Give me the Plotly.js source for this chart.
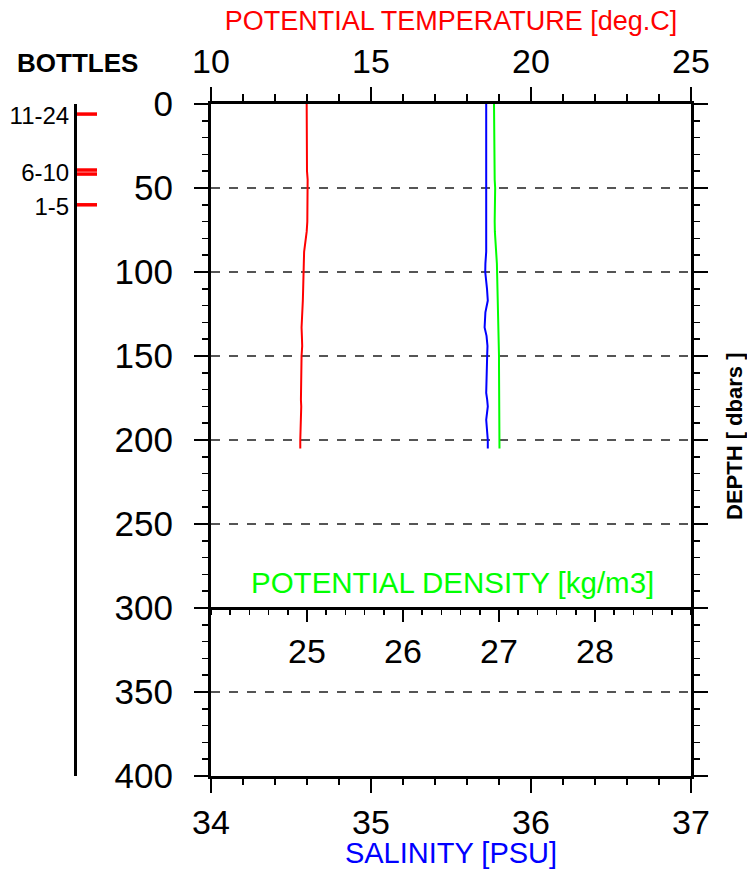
<!DOCTYPE html>
<html>
<head>
<meta charset="utf-8">
<script src="https://cdn.plot.ly/plotly-3.0.1.min.js"></script>
<style>html,body{margin:0;padding:0;background:#fff;}#chart{width:747px;height:869px;}</style>
</head>
<body>
<div id="chart"></div>
<script>
// ---- data ----
var depth = [0, 10, 20, 30, 40, 45, 50, 60, 70, 76, 82, 88, 95, 100, 110, 117, 124, 129, 133, 138, 144, 150, 156, 165, 172, 176, 180, 188, 194, 200, 205];
var potTemp = [12.99, 12.99, 12.99, 13.00, 13.00, 13.02, 13.02, 13.02, 13.01, 12.99, 12.95, 12.91, 12.90, 12.90, 12.88, 12.87, 12.85, 12.83, 12.83, 12.84, 12.85, 12.83, 12.82, 12.82, 12.81, 12.81, 12.82, 12.80, 12.80, 12.79, 12.79];
var salinity = [35.720, 35.720, 35.720, 35.720, 35.720, 35.720, 35.720, 35.720, 35.720, 35.720, 35.724, 35.720, 35.715, 35.714, 35.725, 35.730, 35.715, 35.710, 35.710, 35.722, 35.728, 35.726, 35.724, 35.720, 35.720, 35.726, 35.730, 35.720, 35.726, 35.730, 35.730];
var potDensity = [26.948, 26.948, 26.950, 26.952, 26.955, 26.955, 26.960, 26.955, 26.955, 26.957, 26.965, 26.972, 26.978, 26.980, 26.985, 26.990, 26.990, 26.992, 26.993, 26.995, 26.997, 27.000, 27.000, 27.002, 27.003, 27.004, 27.004, 27.005, 27.005, 27.005, 27.005];

var bottleMarkDepths = [6, 39.3, 41.7, 60];
var bottleLabelDepths = [7, 41, 61];
var bottleLabels = ['11-24', '6-10', '1-5'];

var depthTicks = [0, 50, 100, 150, 200, 250, 300, 350, 400];
var densityTicks = [25, 26, 27, 28];

// ---- build ----
var bx = [], by = [];
bottleMarkDepths.forEach(function (d) { bx.push(0, 1, null); by.push(d, d, null); });

var FONT = '"Liberation Sans", Arial, Helvetica, sans-serif';

var traces = [
  { x: salinity, y: depth, xaxis: 'x', yaxis: 'y', mode: 'lines', line: { color: '#0000ff', width: 2 }, name: 'Salinity', hoverinfo: 'skip' },
  { x: potTemp, y: depth, xaxis: 'x2', yaxis: 'y', mode: 'lines', line: { color: '#ff0000', width: 2 }, name: 'Potential temperature', hoverinfo: 'skip' },
  { x: potDensity, y: depth, xaxis: 'x3', yaxis: 'y', mode: 'lines', line: { color: '#00ff00', width: 2 }, name: 'Potential density', hoverinfo: 'skip' },
  { x: bx, y: by, xaxis: 'x4', yaxis: 'y4', mode: 'lines', line: { color: '#ff0000', width: 3.5 }, name: 'Bottles', hoverinfo: 'skip', cliponaxis: false }
];

var L = 60, R = 56, T = 104, B = 93, W = 747, H = 869;
var pw = W - L - R;
function px2fx(p) { return (p - L) / pw; }

var layout = {
  width: W, height: H,
  margin: { l: L, r: R, t: T, b: B, pad: 0 },
  paper_bgcolor: '#ffffff', plot_bgcolor: 'rgba(0,0,0,0)',
  showlegend: false,
  font: { family: FONT, color: '#000' },
  xaxis: {
    domain: [px2fx(211), 1], range: [34, 37], anchor: 'y', side: 'bottom',
    tickmode: 'linear', tick0: 34, dtick: 1,
    ticks: 'outside', ticklen: 14, tickwidth: 1.5, tickcolor: '#000',
    minor: { dtick: 0.2, ticks: 'outside', ticklen: 6, tickwidth: 1.5, tickcolor: '#000', showgrid: false },
    showline: true, linewidth: 3, linecolor: '#000', mirror: true,
    showgrid: false, zeroline: false,
    tickfont: { size: 34, family: FONT },
    ticklabelstandoff: 0,
    title: { text: 'SALINITY [PSU]', font: { size: 29, color: '#0000ff', family: FONT }, standoff: 6 }
  },
  xaxis2: {
    overlaying: 'x', range: [10, 25], anchor: 'y', side: 'top',
    tickmode: 'linear', tick0: 10, dtick: 5,
    ticks: 'outside', ticklen: 14, tickwidth: 1.5, tickcolor: '#000',
    minor: { dtick: 1, ticks: 'outside', ticklen: 7, tickwidth: 1.5, tickcolor: '#000', showgrid: false },
    showline: true, linewidth: 3, linecolor: '#000',
    showgrid: false, zeroline: false,
    tickfont: { size: 34, family: FONT },
    ticklabelstandoff: 0,
    title: { text: 'POTENTIAL TEMPERATURE [deg.C]', font: { size: 27, color: '#ff0000', family: FONT }, standoff: 4 }
  },
  xaxis3: {
    overlaying: 'x', range: [24, 29], anchor: 'free', position: 0.25, side: 'bottom',
    tickmode: 'array', tickvals: densityTicks,
    ticks: 'outside', ticklen: 12, tickwidth: 1.5, tickcolor: '#000',
    minor: { dtick: 0.2, tick0: 24, ticks: 'outside', ticklen: 5, tickwidth: 1.5, tickcolor: '#000', showgrid: false },
    showline: true, linewidth: 3, linecolor: '#000',
    showgrid: false, zeroline: false,
    tickfont: { size: 34, family: FONT },
    ticklabelstandoff: 0
  },
  yaxis: {
    domain: [0, 1], range: [400, 0], anchor: 'x',
    tickmode: 'array', tickvals: depthTicks,
    ticks: 'outside', ticklen: 14, tickwidth: 1.5, tickcolor: '#000',
    minor: { dtick: 10, ticks: 'outside', ticklen: 6, tickwidth: 1.5, tickcolor: '#000', showgrid: false },
    showline: true, linewidth: 3, linecolor: '#000', mirror: 'ticks',
    showgrid: true, gridcolor: '#555555', gridwidth: 1.2, griddash: 'dash',
    zeroline: false,
    tickfont: { size: 35, family: FONT },
    ticklabelstandoff: 14
  },
  xaxis4: {
    domain: [px2fx(77), px2fx(97)], range: [0, 1], anchor: 'y4',
    showline: false, showgrid: false, zeroline: false, showticklabels: false, ticks: ''
  },
  yaxis4: {
    domain: [0, 1], range: [400, 0], anchor: 'x4',
    tickmode: 'array', tickvals: bottleLabelDepths, ticktext: bottleLabels,
    ticks: '', showline: true, linewidth: 3, linecolor: '#000',
    showgrid: false, zeroline: false,
    tickfont: { size: 24, family: FONT },
    ticklabelstandoff: 0
  },
  annotations: [
    { text: 'POTENTIAL DENSITY [kg/m3]', xref: 'x', yref: 'y', x: 35.51, y: 285, xanchor: 'center', yanchor: 'middle', showarrow: false, font: { size: 29.5, color: '#00ff00', family: FONT } },
    { text: '<b>DEPTH [ dbars ]</b>', xref: 'paper', yref: 'paper', x: px2fx(734), y: 1 - (437 - T) / (H - T - B), xanchor: 'center', yanchor: 'middle', textangle: -90, showarrow: false, font: { size: 22, color: '#000', family: FONT } },
    { text: '<b>BOTTLES</b>', xref: 'paper', yref: 'paper', x: px2fx(77), y: 1 - (63 - T) / (H - T - B), xanchor: 'center', yanchor: 'middle', showarrow: false, font: { size: 26, color: '#000', family: FONT } }
  ]
};

Plotly.newPlot('chart', traces, layout, { staticPlot: true, displayModeBar: false });
</script>
</body>
</html>
